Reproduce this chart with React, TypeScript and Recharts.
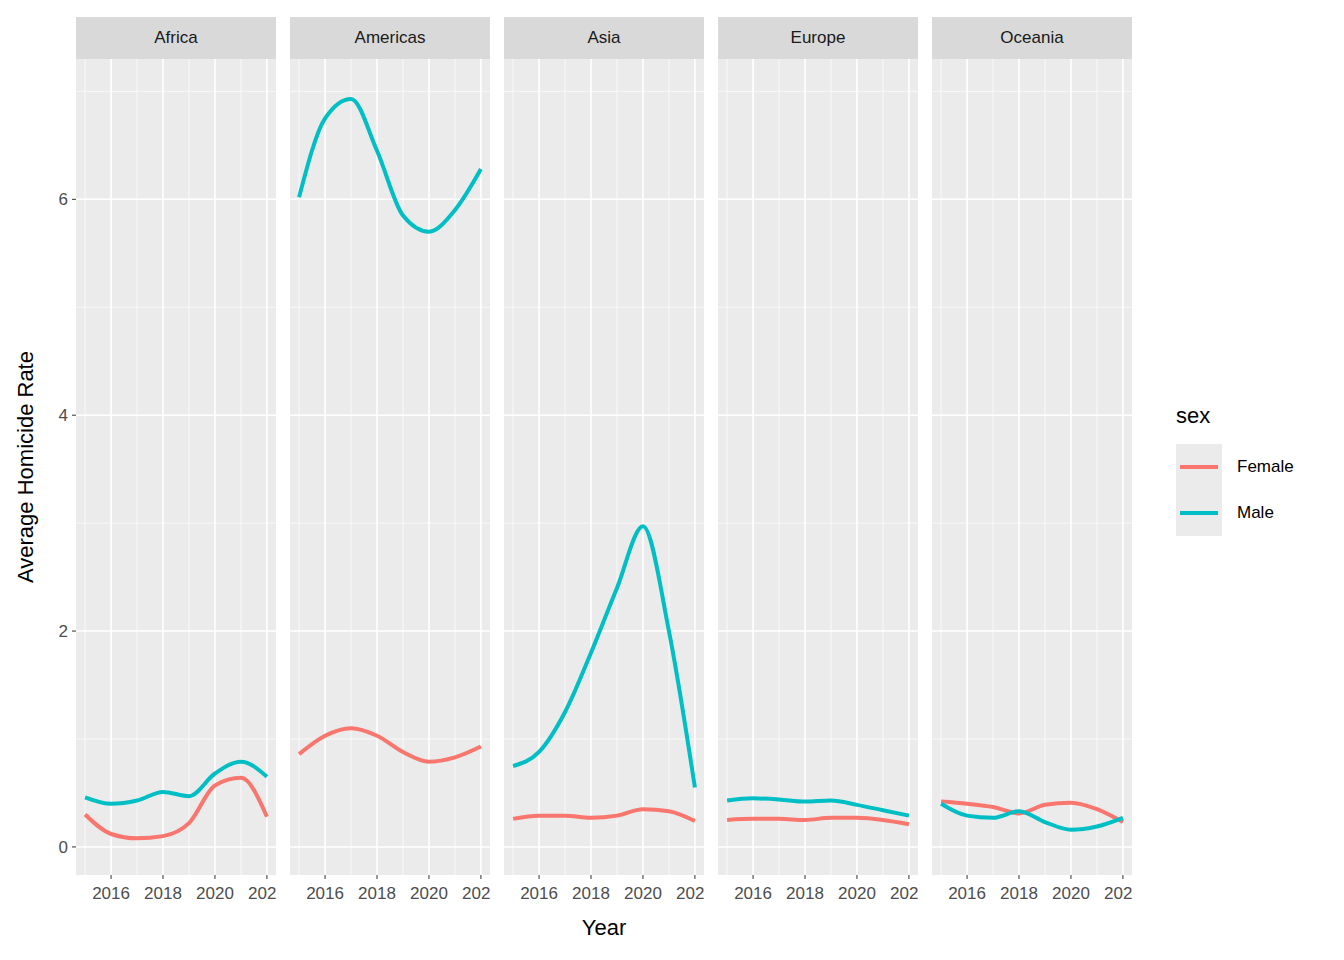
import React from "react";
import { LineChart, Line, XAxis, YAxis, ReferenceLine } from "recharts";

const years = [2015, 2016, 2017, 2018, 2019, 2020, 2021, 2022];
const regions = ["Africa", "Americas", "Asia", "Europe", "Oceania"];
const femaleAfrica = [0.30, 0.12, 0.08, 0.10, 0.22, 0.57, 0.64, 0.28];
const maleAfrica = [0.46, 0.40, 0.43, 0.51, 0.47, 0.68, 0.79, 0.65];
const femaleAmericas = [0.86, 1.03, 1.10, 1.03, 0.88, 0.79, 0.83, 0.93];
const maleAmericas = [6.02, 6.75, 6.93, 6.45, 5.85, 5.70, 5.90, 6.28];
const femaleAsia = [0.26, 0.29, 0.29, 0.27, 0.29, 0.35, 0.33, 0.24];
const maleAsia = [0.75, 0.88, 1.25, 1.80, 2.40, 2.97, 2.0, 0.55];
const femaleEurope = [0.25, 0.26, 0.26, 0.25, 0.27, 0.27, 0.25, 0.21];
const maleEurope = [0.43, 0.45, 0.44, 0.42, 0.43, 0.39, 0.34, 0.29];
const femaleOceania = [0.42, 0.40, 0.37, 0.31, 0.39, 0.41, 0.35, 0.23];
const maleOceania = [0.40, 0.29, 0.27, 0.33, 0.23, 0.16, 0.19, 0.27];
const xTicks = [2016, 2018, 2020, 2022];
const xMinor = [2015, 2017, 2019, 2021];
const yTicks = [0, 2, 4, 6];
const yMinor = [1, 3, 5, 7];

const series: Record<string, [number[], number[]]> = {
  Africa: [femaleAfrica, maleAfrica],
  Americas: [femaleAmericas, maleAmericas],
  Asia: [femaleAsia, maleAsia],
  Europe: [femaleEurope, maleEurope],
  Oceania: [femaleOceania, maleOceania],
};

const FONT = "'Liberation Sans', Arial, sans-serif";
const RED = "#F8766D";
const TEAL = "#00BFC4";
const PANEL_LEFTS = [76, 290, 504, 718, 932];
const PANEL_W = 200;
const PANEL_TOP = 59;
const PANEL_H = 816;

const XTick = (p: any) => (
  <text x={p.x} y={p.y + 18} textAnchor="middle" fill="#4d4d4d" fontSize={17} fontFamily={FONT}>{p.payload.value}</text>
);
const YTick = (p: any) => (
  <text x={p.x - 2} y={p.y + 6} textAnchor="end" fill="#4d4d4d" fontSize={17} fontFamily={FONT}>{p.payload.value}</text>
);

function Panel({ region, idx }: { region: string; idx: number }) {
  const [f, m] = series[region];
  const data = years.map((y, i) => ({ year: y, female: f[i], male: m[i] }));
  const first = idx === 0;
  const yW = first ? 76 : 0;
  return (
    <div style={{ position: "absolute", left: PANEL_LEFTS[idx] - yW, top: PANEL_TOP }}>
      <LineChart width={PANEL_W + yW} height={PANEL_H + 34} data={data} margin={{ top: 0, right: 0, bottom: 0, left: 0 }} style={{ overflow: "visible" }}>
        <XAxis dataKey="year" type="number" domain={[2014.65, 2022.35]} ticks={xTicks} allowDataOverflow
          height={34} axisLine={false} tickLine={{ stroke: "#333", strokeWidth: 1 }} tickSize={4}
          tick={<XTick />} interval={0} />
        <YAxis type="number" domain={[-0.26, 7.3]} ticks={yTicks} allowDataOverflow hide={!first}
          width={yW} axisLine={false} tickLine={{ stroke: "#333" }} tickSize={4} tick={<YTick />} interval={0} />
        {yMinor.map((v) => <ReferenceLine key={"ym" + v} y={v} stroke="#fff" strokeWidth={0.7} />)}
        {xMinor.map((v) => <ReferenceLine key={"xm" + v} x={v} stroke="#fff" strokeWidth={0.7} />)}
        {yTicks.map((v) => <ReferenceLine key={"y" + v} y={v} stroke="#fff" strokeWidth={1.6} />)}
        {xTicks.map((v) => <ReferenceLine key={"x" + v} x={v} stroke="#fff" strokeWidth={1.6} />)}
        <Line dataKey="female" type="monotone" stroke={RED} strokeWidth={4} dot={false} isAnimationActive={false} />
        <Line dataKey="male" type="monotone" stroke={TEAL} strokeWidth={4} dot={false} isAnimationActive={false} />
      </LineChart>
    </div>
  );
}

export default function App() {
  return (
    <div style={{ position: "relative", width: 1344, height: 960, background: "#fff", fontFamily: FONT, margin: -8 }}>
      {regions.map((r, i) => (
        <React.Fragment key={r}>
          <div style={{ position: "absolute", left: PANEL_LEFTS[i], top: 17, width: PANEL_W, height: 42, background: "#D9D9D9",
            display: "flex", alignItems: "center", justifyContent: "center", fontSize: 17, color: "#1a1a1a" }}>{r}</div>
          <div style={{ position: "absolute", left: PANEL_LEFTS[i], top: PANEL_TOP, width: PANEL_W, height: PANEL_H, background: "#EBEBEB" }} />
        </React.Fragment>
      ))}
      {regions.map((r, i) => <Panel key={r} region={r} idx={i} />)}
      <div style={{ position: "absolute", left: 504, width: 200, top: 915, textAlign: "center", fontSize: 22 }}>Year</div>
      <div style={{ position: "absolute", left: 26, top: 467, transform: "translate(-50%,-50%) rotate(-90deg)", fontSize: 22, whiteSpace: "nowrap" }}>Average Homicide Rate</div>
      <div style={{ position: "absolute", left: 1176, top: 403, fontSize: 22 }}>sex</div>
      <div style={{ position: "absolute", left: 1176, top: 444, width: 46, height: 92, background: "#EBEBEB" }}>
        <div style={{ position: "absolute", left: 4, right: 4, top: 21, height: 4, background: RED }} />
        <div style={{ position: "absolute", left: 4, right: 4, top: 67, height: 4, background: TEAL }} />
      </div>
      <div style={{ position: "absolute", left: 1237, top: 457, fontSize: 17 }}>Female</div>
      <div style={{ position: "absolute", left: 1237, top: 503, fontSize: 17 }}>Male</div>
    </div>
  );
}
